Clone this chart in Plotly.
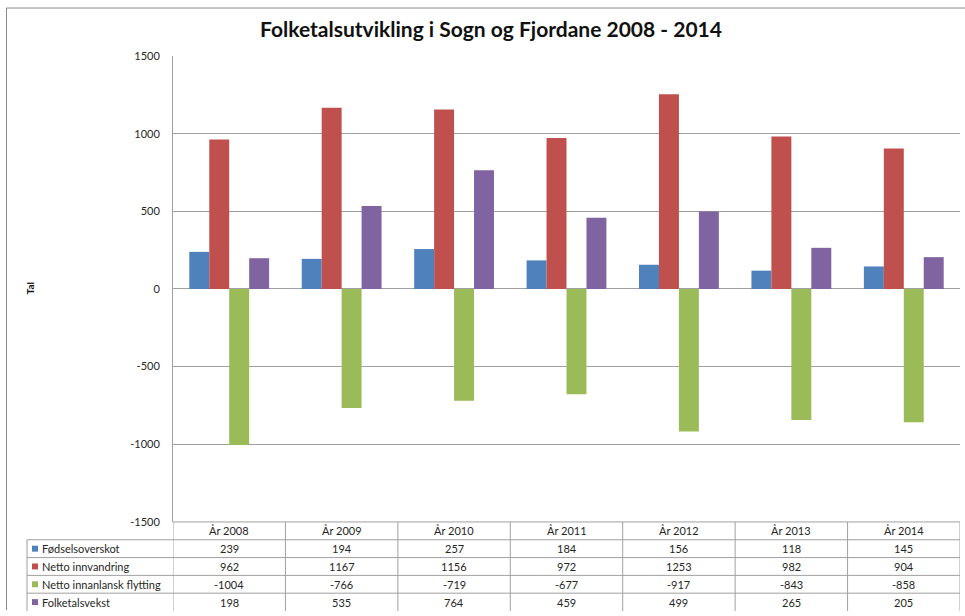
import plotly.graph_objects as go

categories = ["År 2008", "År 2009", "År 2010", "År 2011", "År 2012", "År 2013", "År 2014"]
series_names = ["Fødselsoverskot", "Netto innvandring", "Netto innanlansk flytting", "Folketalsvekst"]
fodselsoverskot = [239, 194, 257, 184, 156, 118, 145]
netto_innvandring = [962, 1167, 1156, 972, 1253, 982, 904]
netto_innanlansk = [-1004, -766, -719, -677, -917, -843, -858]
folketalsvekst = [198, 535, 764, 459, 499, 265, 205]
series_values = [fodselsoverskot, netto_innvandring, netto_innanlansk, folketalsvekst]
colors = ["#4F81BD", "#C0504D", "#9BBB59", "#8064A2"]
tick_vals = [1500, 1000, 500, 0, -500, -1000, -1500]

W, H = 965, 616
ML, MR, MT, MB = 27, 5, 56, 0
PW = W - ML - MR
PH = H - MT - MB
axis_left = 173
plot_bottom = 527
row_h = 18

FONT = "Lato, 'Open Sans', sans-serif"
GRID = "#A0A0A0"
TXT = "#262626"


def px(xp):
    return (xp - ML) / PW


def py(yp):
    return (H - MB - yp) / PH


fig = go.Figure()
for name, vals, col in zip(series_names, series_values, colors):
    fig.add_trace(go.Bar(x=categories, y=vals, name=name, marker=dict(color=col, line=dict(width=0))))

fig.update_layout(
    width=W, height=H,
    margin=dict(l=ML, r=MR, t=MT, b=MB),
    paper_bgcolor="white", plot_bgcolor="white",
    showlegend=False,
    barmode="group", bargap=0.29, bargroupgap=0,
    title=dict(text="<b>Folketalsutvikling i Sogn og Fjordane 2008 - 2014</b>",
               x=px(491), xref="paper", xanchor="center",
               y=1 - 30 / H, yanchor="middle",
               font=dict(family=FONT, size=21, color="#111")),
    xaxis=dict(domain=[px(axis_left), 1], range=[-0.5, len(categories) - 0.5],
               showticklabels=False, showgrid=False, showline=False, zeroline=False),
    yaxis=dict(domain=[py(plot_bottom), 1], range=[-1500, 1500],
               tickvals=tick_vals, ticktext=[str(v) for v in tick_vals],
               showgrid=True, gridcolor=GRID, gridwidth=1,
               zeroline=True, zerolinecolor=GRID, zerolinewidth=1,
               showline=True, linecolor=GRID, linewidth=1,
               ticks="", ticklabelstandoff=10,
               tickfont=dict(family=FONT, size=11, color=TXT)),
)

# y-axis title
fig.add_annotation(text="<b>Tal</b>", textangle=-90, xref="paper", yref="paper",
                   x=px(30), y=py(291), xanchor="center", yanchor="middle", showarrow=False,
                   font=dict(family=FONT, size=10, color="#111"))

# outer frame lines
fig.add_shape(type="line", xref="paper", yref="paper", x0=px(6.5), x1=px(W),
              y0=py(7.5), y1=py(7.5), line=dict(color="#8A8A8A", width=1))
fig.add_shape(type="line", xref="paper", yref="paper", x0=px(6.5), x1=px(6.5),
              y0=py(7.5), y1=py(H), line=dict(color="#8A8A8A", width=1))

# ---- data table below the plot ----
n_rows = len(series_names)
header_top = plot_bottom
rows_top = [header_top + row_h * (k + 1) for k in range(n_rows + 1)]
table_bottom = header_top + row_h * (n_rows + 1)

# horizontal lines
fig.add_shape(type="line", xref="x", yref="paper", x0=-0.5, x1=len(categories) - 0.5,
              y0=py(header_top), y1=py(header_top), line=dict(color=GRID, width=1))
for yt in rows_top[:-1]:
    fig.add_shape(type="line", xref="paper", yref="paper", x0=px(ML), x1=1,
                  y0=py(yt), y1=py(yt), line=dict(color=GRID, width=1))
# vertical lines
for i in range(len(categories) + 1):
    fig.add_shape(type="line", xref="x", yref="paper", x0=i - 0.5, x1=i - 0.5,
                  y0=py(header_top), y1=py(table_bottom), line=dict(color=GRID, width=1))
fig.add_shape(type="line", xref="paper", yref="paper", x0=px(ML), x1=px(ML),
              y0=py(rows_top[0]), y1=py(table_bottom), line=dict(color=GRID, width=1))

# header labels
for cat in categories:
    fig.add_annotation(text=cat, x=cat, xref="x", y=py(header_top + row_h / 2), yref="paper",
                       xanchor="center", yanchor="middle",
                       showarrow=False, font=dict(family=FONT, size=11, color=TXT))

# rows
for k, (name, vals, col) in enumerate(zip(series_names, series_values, colors)):
    yc = rows_top[k] + row_h / 2
    fig.add_shape(type="rect", xref="paper", yref="paper",
                  x0=px(ML + 5), x1=px(ML + 11), y0=py(yc - 3), y1=py(yc + 3),
                  fillcolor=col, line=dict(width=0))
    fig.add_annotation(text=name, x=px(ML + 13), xref="paper", xanchor="left",
                       y=py(yc), yref="paper", yanchor="middle", showarrow=False,
                       font=dict(family=FONT, size=11, color=TXT))
    for cat, v in zip(categories, vals):
        fig.add_annotation(text=str(v), x=cat, xref="x", y=py(yc), yref="paper",
                           xanchor="center", yanchor="middle",
                           showarrow=False, font=dict(family=FONT, size=11, color=TXT))

fig.write_html("out.html", config={"displayModeBar": False},
               post_script="document.body.style.margin='0';document.body.style.overflow='hidden';")
